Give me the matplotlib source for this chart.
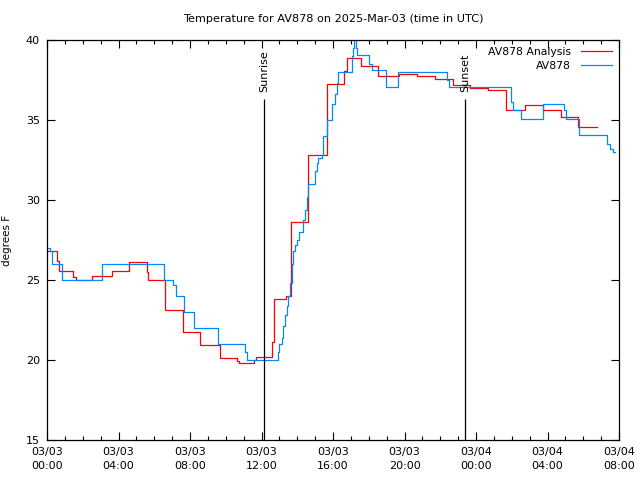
import matplotlib
matplotlib.use('Agg')
import matplotlib.pyplot as plt
from matplotlib.ticker import MultipleLocator

plt.rcParams['font.family'] = 'DejaVu Sans'
plt.rcParams['font.size'] = 7.5

# hours since 03/03 00:00 UTC, temperatures in degrees F (step data)
obs_hours = [0.0, 0.17, 0.3, 0.82, 3.06, 6.56, 7.05, 7.2, 7.68, 8.22, 9.58, 11.08, 11.2,
             12.94, 12.98, 13.13, 13.22, 13.31, 13.41, 13.5, 13.59, 13.69, 13.78, 13.87,
             13.97, 14.12, 14.34, 14.43, 14.53, 14.62, 14.99, 15.09, 15.18, 15.37, 15.46,
             15.68, 15.93, 16.11, 16.21, 16.3, 17.05, 17.13, 17.19, 17.27, 17.33, 18.03,
             18.18, 18.97, 19.66, 22.36, 22.5, 25.94, 26.09, 26.5, 27.77, 28.9, 29.05,
             29.76, 31.31, 31.5, 31.65, 31.78]
obs_temps = [27.0, 26.8, 26.0, 25.0, 26.0, 25.0, 24.7, 24.0, 23.0, 22.0, 21.0, 20.5, 20.0,
             20.5, 21.0, 21.4, 22.1, 22.8, 23.4, 24.0, 24.8, 26.0, 26.8, 27.2,
             27.5, 28.0, 28.75, 29.4, 30.2, 31.0, 31.8, 32.3, 32.6, 32.8, 34.0,
             35.0, 36.0, 36.6, 37.3, 38.0, 39.0, 39.5, 40.0, 39.5, 39.05, 38.5,
             38.1, 37.05, 38.0, 37.5, 37.05, 36.1, 35.6, 35.05, 36.0, 35.6, 35.05,
             34.05, 33.5, 33.2, 33.0, 33.0]

ana_hours = [0.0, 0.54, 0.65, 1.47, 1.62, 2.54, 3.62, 4.59, 5.58, 5.65, 6.58, 7.59, 8.56,
             9.68, 10.61, 10.76, 11.58, 11.69, 12.6, 12.7, 13.35, 13.63, 14.62, 15.65,
             16.63, 16.8, 17.55, 18.5, 19.71, 20.68, 21.7, 22.73, 23.66, 24.69, 25.68,
             26.74, 27.73, 28.74, 29.73, 30.79]
ana_temps = [26.8, 26.2, 25.55, 25.2, 25.0, 25.25, 25.55, 26.1, 25.5, 25.0, 23.1, 21.75, 20.95,
             20.15, 19.95, 19.8, 20.0, 20.2, 21.1, 23.8, 24.0, 28.6, 32.8, 37.25,
             38.05, 38.9, 38.4, 37.75, 37.9, 37.75, 37.55, 37.2, 37.0, 36.85, 35.6,
             35.95, 35.6, 35.2, 34.55, 34.55]

sun_times = [12.16, 23.39]
sun_labels = ['Sunrise', 'Sunset']

tick_hours = [0, 4, 8, 12, 16, 20, 24, 28, 32]
tick_labels = ['03/03\n00:00', '03/03\n04:00', '03/03\n08:00', '03/03\n12:00', '03/03\n16:00',
               '03/03\n20:00', '03/04\n00:00', '03/04\n04:00', '03/04\n08:00']

fig = plt.figure(figsize=(6.4, 4.8), dpi=100)
ax = fig.add_axes([47 / 640, 40 / 480, 572 / 640, 400 / 480])

ax.plot(ana_hours, ana_temps, drawstyle='steps-post', color='#ff0000', lw=0.9,
        label='AV878 Analysis')
ax.plot(obs_hours, obs_temps, drawstyle='steps-post', color='#0088ff', lw=0.9,
        label='AV878')

for t, lab in zip(sun_times, sun_labels):
    ax.vlines(t, 15, 36.3, color='black', lw=0.9)
    ax.text(t, 36.75, lab, rotation=90, ha='center', va='bottom', fontsize=8)

ax.set_xlim(0, 32)
ax.set_ylim(15, 40)
ax.set_xticks(tick_hours)
ax.set_xticklabels(tick_labels, fontsize=8, linespacing=1.5)
ax.xaxis.set_minor_locator(MultipleLocator(1))
ax.yaxis.set_major_locator(MultipleLocator(5))
for lab in ax.get_yticklabels():
    lab.set_fontsize(8)
ax.tick_params(which='both', direction='in', top=True, right=True, width=0.8)
ax.tick_params(which='major', length=6, pad=5)
ax.tick_params(which='minor', length=3)
for s in ax.spines.values():
    s.set_linewidth(0.9)

ax.set_ylabel('degrees F', labelpad=10, fontsize=7.5)
ax.set_title('Temperature for AV878 on 2025-Mar-03 (time in UTC)', pad=13, fontsize=8.1)

ax.legend(loc='upper right', frameon=False, markerfirst=False, handlelength=2.9,
          borderaxespad=0.25, labelspacing=0.35, handletextpad=0.9, fontsize=7.8)

fig.savefig('out.png', dpi=100)
